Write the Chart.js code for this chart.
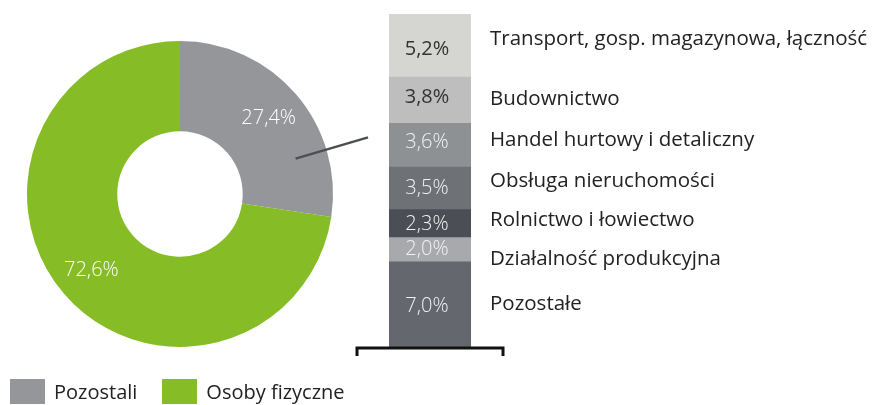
<!DOCTYPE html>
<html>
<head>
<meta charset="utf-8">
<script src="https://cdn.jsdelivr.net/npm/chart.js@4"></script>
<style>
  html, body { margin: 0; padding: 0; background: #fff; }
  #wrap { position: relative; width: 875px; height: 405px; font-family: "Open Sans", sans-serif; }
  #wrap canvas { position: absolute; left: 0; top: 0; }
  #legend { position: absolute; left: 10px; top: 378px; display: flex; align-items: center; font-size: 20px; color: #222; }
  #legend span.box { display: inline-block; width: 35px; height: 25px; margin-right: 9px; }
  #legend span.item { display: flex; align-items: center; margin-right: 25px; }
</style>
</head>
<body>
<div id="wrap">
  <canvas id="donut" width="875" height="405"></canvas>
  <canvas id="stack" width="875" height="405"></canvas>
  <div id="legend"></div>
</div>
<script>
// ring: share of all entities
const ringLabels = ["Pozostali", "Osoby fizyczne"];
const ringValues = [27.4, 72.6];
const ringColors = ["#959699", "#86bc25"];

// breakdown of "Pozostali", top to bottom
const sectorLabels = [
  "Transport, gosp. magazynowa, łączność",
  "Budownictwo",
  "Handel hurtowy i detaliczny",
  "Obsługa nieruchomości",
  "Rolnictwo i łowiectwo",
  "Działalność produkcyjna",
  "Pozostałe"
];
const sectorValues = [5.2, 3.8, 3.6, 3.5, 2.3, 2.0, 7.0];
const sectorColors = ["#d5d5d1", "#bebebe", "#8e9194", "#6e7175", "#4b4e54", "#a7a9ac", "#64676d"];
const sectorTextColors = ["#333", "#333", "#f2f2f2", "#f2f2f2", "#f2f2f2", "#f2f2f2", "#f2f2f2"];
const labelNudge = [-6, -1, -5, -7, -3, 9, 0];
const valueNudge = [4, -3, -3, 0, 1, 0, 2];

const pct = v => v.toFixed(1).replace(".", ",") + "%";

// html legend
const legend = document.getElementById("legend");
ringLabels.forEach((l, i) => {
  const it = document.createElement("span");
  it.className = "item";
  it.innerHTML = `<span class="box" style="background:${ringColors[i]}"></span>${l}`;
  legend.appendChild(it);
});

const ringLabelPlugin = {
  id: "ringLabels",
  afterDatasetsDraw(chart) {
    const ctx = chart.ctx;
    ctx.save();
    ctx.font = "300 20px 'Open Sans'";
    ctx.fillStyle = "#fff";
    ctx.textAlign = "center";
    ctx.textBaseline = "middle";
    chart.getDatasetMeta(0).data.forEach((arc, i) => {
      const a = (arc.startAngle + arc.endAngle) / 2;
      const r = arc.innerRadius + (arc.outerRadius - arc.innerRadius) * 0.6;
      ctx.fillText(pct(ringValues[i]), arc.x + Math.cos(a) * r, arc.y + Math.sin(a) * r);
    });
    ctx.restore();
  }
};

const donut = new Chart(document.getElementById("donut"), {
  type: "doughnut",
  data: {
    labels: ringLabels,
    datasets: [{ data: ringValues, backgroundColor: ringColors, borderWidth: 0 }]
  },
  options: {
    responsive: false,
    animation: false,
    cutout: "41%",
    layout: { padding: { left: 27, top: 41, right: 542, bottom: 58 } },
    plugins: { legend: { display: false }, tooltip: { enabled: false } }
  },
  plugins: [ringLabelPlugin]
});

const stackPlugin = {
  id: "stackLabels",
  afterDatasetsDraw(chart) {
    const ctx = chart.ctx;
    const area = chart.chartArea;
    ctx.save();
    let left = 0, right = 0, budBottom = 0;
    chart.data.datasets.forEach((ds, di) => {
      const bar = chart.getDatasetMeta(di).data[0];
      const idx = ds.srcIndex;
      const cy = (bar.y + bar.base) / 2;
      left = bar.x - bar.width / 2;
      right = bar.x + bar.width / 2;
      if (idx === 1) budBottom = bar.base;
      ctx.textBaseline = "middle";
      ctx.textAlign = "center";
      ctx.font = (idx < 2 ? "400" : "300") + " 20px 'Open Sans'";
      ctx.fillStyle = sectorTextColors[idx];
      ctx.fillText(pct(sectorValues[idx]), bar.x - 3, cy + valueNudge[idx]);
      ctx.textAlign = "left";
      ctx.font = "20.5px 'Open Sans'";
      ctx.fillStyle = "#222";
      ctx.fillText(sectorLabels[idx], right + 19, cy + labelNudge[idx]);
    });
    // bracket under the bar
    ctx.strokeStyle = "#111";
    ctx.lineWidth = 3;
    ctx.beginPath();
    ctx.moveTo(left - 32, area.bottom + 9);
    ctx.lineTo(left - 32, area.bottom + 1);
    ctx.lineTo(right + 32, area.bottom + 1);
    ctx.lineTo(right + 32, area.bottom + 9);
    ctx.stroke();
    // connector from the grey slice
    const arc = donut.getDatasetMeta(0).data[0];
    const a = arc.startAngle + (arc.endAngle - arc.startAngle) * 0.74;
    const r = arc.outerRadius * 0.79;
    ctx.strokeStyle = "#4b4e54";
    ctx.lineWidth = 2.5;
    ctx.beginPath();
    ctx.moveTo(arc.x + Math.cos(a) * r, arc.y + Math.sin(a) * r);
    ctx.lineTo(left - 21, budBottom + 14);
    ctx.stroke();
    ctx.restore();
  }
};

const total = sectorValues.reduce((s, v) => s + v, 0);
const stackSets = sectorValues.map((v, i) => ({
  label: sectorLabels[i],
  data: [v],
  srcIndex: i,
  backgroundColor: sectorColors[i],
  borderWidth: 0,
  barPercentage: 1,
  categoryPercentage: 1
})).reverse();

new Chart(document.getElementById("stack"), {
  type: "bar",
  data: { labels: ["Pozostali"], datasets: stackSets },
  options: {
    responsive: false,
    animation: false,
    layout: { padding: { left: 389, right: 404, top: 14, bottom: 58 } },
    scales: {
      x: { display: false, stacked: true },
      y: { display: false, stacked: true, min: 0, max: total }
    },
    plugins: { legend: { display: false }, tooltip: { enabled: false } }
  },
  plugins: [stackPlugin]
});
</script>
</body>
</html>
